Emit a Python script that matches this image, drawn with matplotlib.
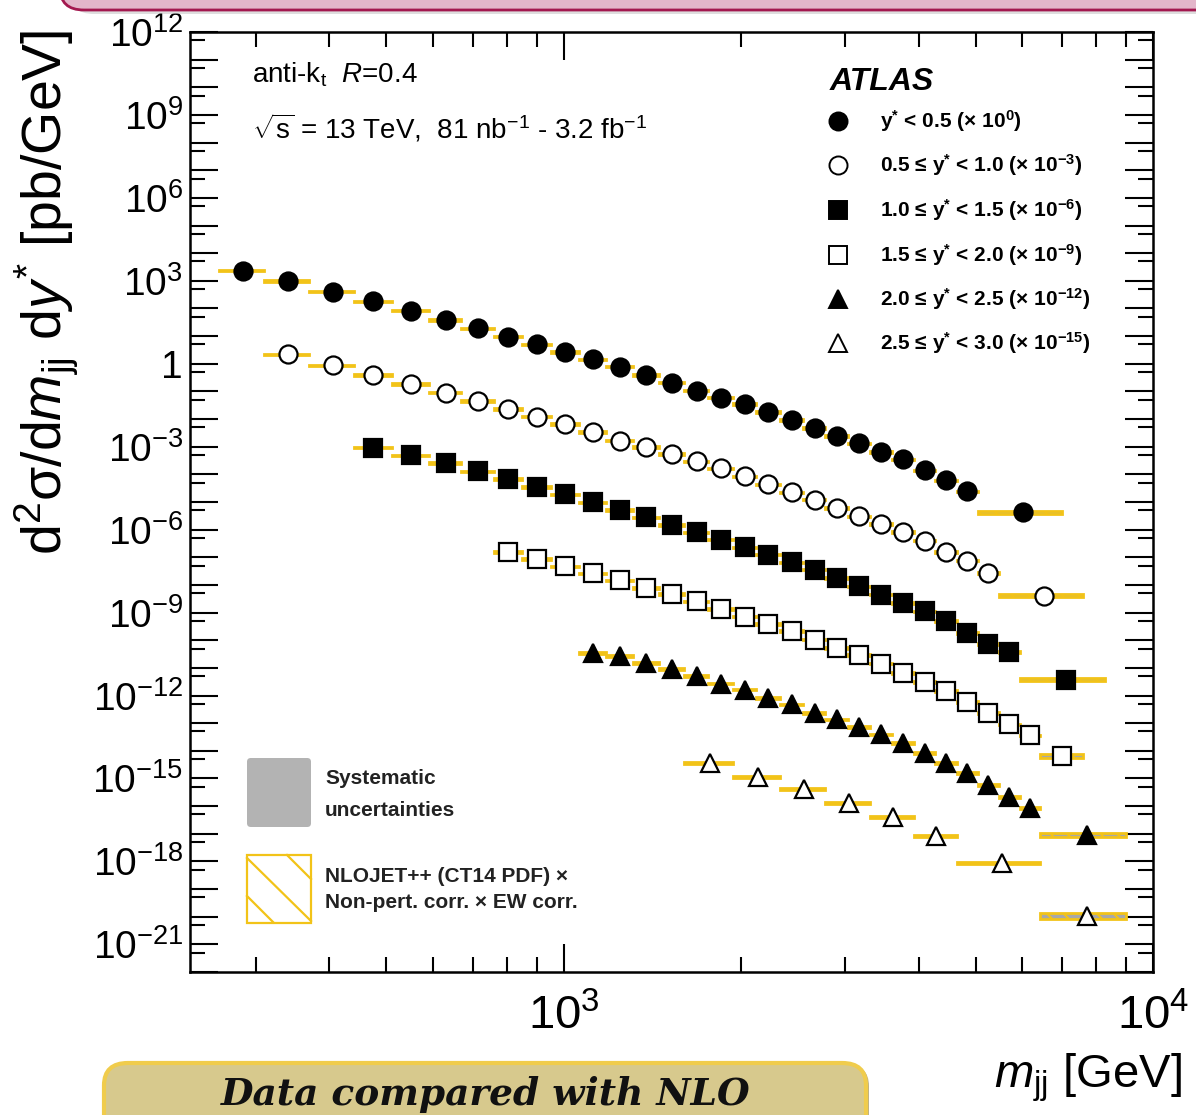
import numpy as np
import matplotlib
matplotlib.use('Agg')
import matplotlib.pyplot as plt
from matplotlib.patches import FancyBboxPatch
from matplotlib.ticker import FixedLocator, FuncFormatter, NullFormatter, LogLocator

plt.rcParams['font.family'] = ['Liberation Sans', 'DejaVu Sans']
plt.rcParams['mathtext.fontset'] = 'custom'
plt.rcParams['mathtext.rm'] = 'Liberation Sans'
plt.rcParams['mathtext.it'] = 'Liberation Sans:italic'
plt.rcParams['mathtext.bf'] = 'Liberation Sans:bold'
plt.rcParams['mathtext.default'] = 'regular'
plt.rcParams['hatch.linewidth'] = 1.5

# ---------------- data ----------------
mjj_edges = [260, 310, 370, 440, 510, 590, 670, 760, 850, 950, 1060, 1180, 1310,
             1450, 1600, 1760, 1940, 2120, 2330, 2550, 2780, 3040, 3310, 3610,
             3930, 4270, 4640, 5040, 5470, 5940, 6440]

edges_y0 = mjj_edges[0:28] + [7000]
edges_y1 = mjj_edges[1:29] + [7600]
edges_y2 = mjj_edges[3:30] + [8300]
edges_y3 = mjj_edges[7:31] + [7600]
edges_y4 = mjj_edges[10:31] + [9000]
edges_y5 = [1600, 1940, 2330, 2780, 3310, 3930, 4640, 6440, 9000]

# cross sections [pb/GeV] (before the display scale factor)
xsec_y0 = [2320, 985, 405, 182, 83, 38, 19.3, 9.6, 5.1, 2.68, 1.46, 0.79, 0.395,
           0.208, 0.107, 0.060, 0.0346, 0.0182, 0.00914, 0.00482, 0.00248,
           0.00131, 6.5e-4, 3.45e-4, 1.38e-4, 6.0e-5, 2.41e-5, 4.2e-6]
xsec_y1 = [2210, 887, 395, 187, 90.8, 44.4, 22.8, 12.3, 6.7, 3.45, 1.67, 0.968,
           0.541, 0.292, 0.163, 0.0838, 0.0431, 0.0221, 0.01205, 6.05e-3, 3.0e-3,
           1.6e-3, 8.2e-4, 3.98e-4, 1.56e-4, 7.55e-5, 2.72e-5, 4.1e-6]
xsec_y2 = [935, 481, 256, 127, 67.5, 34.7, 18.8, 9.64, 5.25, 2.77, 1.47, 0.794,
           0.434, 0.228, 0.1245, 0.0655, 0.0357, 0.0179, 8.9e-3, 4.46e-3, 2.24e-3,
           1.11e-3, 4.84e-4, 1.85e-4, 7.4e-5, 3.67e-5, 3.8e-6]
xsec_y3 = [155.6, 86.9, 47.0, 26.2, 14.7, 7.80, 4.61, 2.54, 1.32, 0.716, 0.390,
           0.211, 0.1057, 0.053, 0.0286, 0.01435, 6.62e-3, 3.13e-3, 1.43e-3,
           5.93e-4, 2.38e-4, 8.97e-5, 3.59e-5, 6.43e-6]
xsec_y4 = [34.9, 26.3, 15.2, 9.23, 4.99, 2.72, 1.65, 0.828, 0.474, 0.238, 0.136,
           0.0741, 0.0391, 0.0196, 8.53e-3, 3.71e-3, 1.61e-3, 5.61e-4, 2.19e-4,
           8.28e-5, 8.77e-6]
xsec_y5 = [3.50, 1.16, 0.427, 0.133, 0.0415, 8.28e-3, 8.53e-4, 1.06e-5]

scale_factors = [1e0, 1e-3, 1e-6, 1e-9, 1e-12, 1e-15]
scale_exps = [0, -3, -6, -9, -12, -15]
ystar_labels = ["$y^{*}$ < 0.5", "0.5 \u2264 $y^{*}$ < 1.0", "1.0 \u2264 $y^{*}$ < 1.5",
                "1.5 \u2264 $y^{*}$ < 2.0", "2.0 \u2264 $y^{*}$ < 2.5", "2.5 \u2264 $y^{*}$ < 3.0"]

# relative theory / systematic band half-widths (regular bins, last wide bin)
theory_unc = [(0.06, 0.12), (0.06, 0.14), (0.07, 0.15), (0.07, 0.15), (0.08, 0.18), (0.09, 0.32)]
syst_unc = [(0.04, 0.16), (0.04, 0.14), (0.05, 0.16), (0.05, 0.18), (0.06, 0.2), (0.08, 0.3)]

markers = [('o', True), ('o', False), ('s', True), ('s', False), ('^', True), ('^', False)]

all_edges = [edges_y0, edges_y1, edges_y2, edges_y3, edges_y4, edges_y5]
all_xsec = [xsec_y0, xsec_y1, xsec_y2, xsec_y3, xsec_y4, xsec_y5]

YELLOW = '#f2c318'
GREY = '#a8a8a8'

# ---------------- figure ----------------
W, H = 1196, 1115
fig = plt.figure(figsize=(W / 100, H / 100), dpi=100)
ax = fig.add_axes([190 / W, 1 - 972 / H, 963 / W, 940 / H])

def afx(px):
    return (px - 190) / 963.0

def afy(py):
    return (972 - py) / 940.0

for i in range(6):
    e = np.array(all_edges[i], dtype=float)
    v = np.array(all_xsec[i]) * scale_factors[i]
    lo, hi = e[:-1], e[1:]
    centers = 0.5 * (lo + hi)
    widths = hi - lo
    n = len(v)
    tu = np.array([theory_unc[i][0]] * (n - 1) + [theory_unc[i][1]])
    su = np.array([syst_unc[i][0]] * (n - 1) + [syst_unc[i][1]])
    # systematic uncertainty boxes
    ax.bar(lo, v * (1 + su) - v / (1 + su), width=widths, bottom=v / (1 + su),
           align='edge', color=GREY, linewidth=0, zorder=2)
    # theory boxes (hatched)
    ax.bar(lo, v * (1 + tu) - v / (1 + tu), width=widths, bottom=v / (1 + tu),
           align='edge', facecolor='none', edgecolor=YELLOW, hatch='\\\\',
           linewidth=2.0, zorder=3)
    m, filled = markers[i]
    ax.plot(centers, v, linestyle='none', marker=m, markersize=13,
            markerfacecolor='black' if filled else 'white',
            markeredgecolor='black', markeredgewidth=1.6, zorder=5)

ax.set_xscale('log')
ax.set_yscale('log')
ax.set_xlim(232, 10000)
ax.set_ylim(1e-22, 1e12)

# ticks
ax.xaxis.set_major_locator(FixedLocator([1e3, 1e4]))
ax.xaxis.set_minor_locator(LogLocator(base=10, subs=np.arange(2, 10)))
ax.xaxis.set_major_formatter(FuncFormatter(lambda v, p: "$10^{%d}$" % round(np.log10(v))))
ax.xaxis.set_minor_formatter(NullFormatter())

ymaj = [10.0 ** k for k in range(-22, 13)]
ymin = [5 * 10.0 ** k for k in range(-22, 12)]
ax.yaxis.set_major_locator(FixedLocator(ymaj))
ax.yaxis.set_minor_locator(FixedLocator(ymin))

def yfmt(v, p):
    k = int(round(np.log10(v)))
    if k % 3 != 0:
        return ""
    if k == 0:
        return "1"
    return "$10^{%d}$" % k

ax.yaxis.set_major_formatter(FuncFormatter(yfmt))
ax.yaxis.set_minor_formatter(NullFormatter())

ax.tick_params(which='both', direction='in', top=True, right=True, width=1.5)
ax.tick_params(which='major', length=20)
ax.tick_params(which='minor', length=11)
ax.tick_params(axis='x', which='major', labelsize=34, pad=16)
ax.tick_params(axis='y', which='major', labelsize=28, pad=5)
for s in ax.spines.values():
    s.set_linewidth(1.8)

ax.set_ylabel("d$^{2}$\u03c3/d$\\mathit{m}_{\\rm jj}$ d$\\mathit{y}^{*}$ [pb/GeV]",
              fontsize=40, loc='top')
ax.yaxis.set_label_coords(afx(80), afy(30))
ax.set_xlabel(r"$\mathit{m}_{\rm jj}$ [GeV]", fontsize=34, loc='right')
ax.xaxis.set_label_coords(afx(1182), afy(1052))

# top-left texts
ax.text(afx(252), afy(75), r"anti-k$_{\rm t}$  $\mathit{R}$=0.4", transform=ax.transAxes,
        fontsize=20, va='center', ha='left')
ax.text(afx(252), afy(128), r"$\sqrt{\rm s}$ = 13 TeV,  81 nb$^{-1}$ - 3.2 fb$^{-1}$",
        transform=ax.transAxes, fontsize=20, va='center', ha='left')

# ATLAS legend (top right)
ax.text(afx(830), afy(82), "ATLAS", transform=ax.transAxes, fontsize=23,
        fontweight='bold', fontstyle='italic', va='center', ha='left')
row_y = [121, 165, 210, 255, 299, 343]
for i in range(6):
    m, filled = markers[i]
    ax.plot([afx(838)], [afy(row_y[i])], transform=ax.transAxes, marker=m,
            markersize=13, markerfacecolor='black' if filled else 'white',
            markeredgecolor='black', markeredgewidth=1.4, linestyle='none',
            clip_on=False, zorder=6)
    ax.text(afx(880), afy(row_y[i]),
            ystar_labels[i] + " (\u00d7 $10^{%d}$)" % scale_exps[i],
            transform=ax.transAxes, fontsize=15, fontweight='bold',
            va='center', ha='left')

# bottom-left legend
gbox = FancyBboxPatch((afx(247), afy(827)), afx(311) - afx(247), afy(758) - afy(827),
                      boxstyle='round,pad=0,rounding_size=0.004', transform=ax.transAxes,
                      facecolor='#b3b3b3', edgecolor='none', zorder=6)
ax.add_patch(gbox)
ax.text(afx(325), afy(779), "Systematic", transform=ax.transAxes, fontsize=15,
        fontweight='bold', va='center', ha='left', color='#222222')
ax.text(afx(325), afy(810), "uncertainties", transform=ax.transAxes, fontsize=15,
        fontweight='bold', va='center', ha='left', color='#222222')
ybox = FancyBboxPatch((afx(247), afy(923)), afx(311) - afx(247), afy(855) - afy(923),
                      boxstyle='square,pad=0', transform=ax.transAxes,
                      facecolor='white', edgecolor=YELLOW, linewidth=1.6, zorder=6)
ax.add_patch(ybox)
for (x0, y0, x1, y1) in [(247, 858, 311, 921), (287, 855, 311, 879), (247, 896, 273, 922)]:
    ax.plot([afx(x0), afx(x1)], [afy(y0), afy(y1)], transform=ax.transAxes,
            color=YELLOW, linewidth=1.6, zorder=7, clip_on=False)
ax.text(afx(325), afy(876), "NLOJET++ (CT14 PDF) \u00d7", transform=ax.transAxes,
        fontsize=15, fontweight='bold', va='center', ha='left', color='#222222')
ax.text(afx(325), afy(903), "Non-pert. corr. \u00d7 EW corr.", transform=ax.transAxes,
        fontsize=15, fontweight='bold', va='center', ha='left', color='#222222')

# ---------------- slide decorations ----------------
# top pink banner
shadow = FancyBboxPatch((70 / W, 1 - 14 / H), 1.2, 0.05,
                        boxstyle='round,pad=0,rounding_size=0.02', transform=fig.transFigure,
                        facecolor='#c8c8c8', edgecolor='none', alpha=0.6, zorder=0)
fig.patches.append(shadow)
banner = FancyBboxPatch((60 / W, 1 - 10 / H), 1.2, 0.05,
                        boxstyle='round,pad=0,rounding_size=0.02', transform=fig.transFigure,
                        facecolor='#e3b6ca', edgecolor='#a3184f', linewidth=2.0, zorder=1)
fig.patches.append(banner)

# bottom yellow banner
bshadow = FancyBboxPatch((107 / W, -0.05), (866 - 104) / W, (1115 - 1064) / H + 0.05,
                         boxstyle='round,pad=0,rounding_size=0.02', transform=fig.transFigure,
                         facecolor='#bdb084', edgecolor='none', zorder=0)
fig.patches.append(bshadow)
bbanner = FancyBboxPatch((104 / W, -0.05), (866 - 104) / W, (1115 - 1063) / H + 0.05,
                         boxstyle='round,pad=0,rounding_size=0.02', transform=fig.transFigure,
                         facecolor='#d7c98d', edgecolor='#f0cc4c', linewidth=3.0, zorder=1)
fig.patches.append(bbanner)
fig.text(486 / W, 1 - 1105 / H, "Data compared with NLO", fontsize=27,
         fontfamily='DejaVu Serif', fontweight='bold', fontstyle='italic',
         ha='center', va='baseline', color='#111111', zorder=3)

fig.savefig('out.png', dpi=100)
